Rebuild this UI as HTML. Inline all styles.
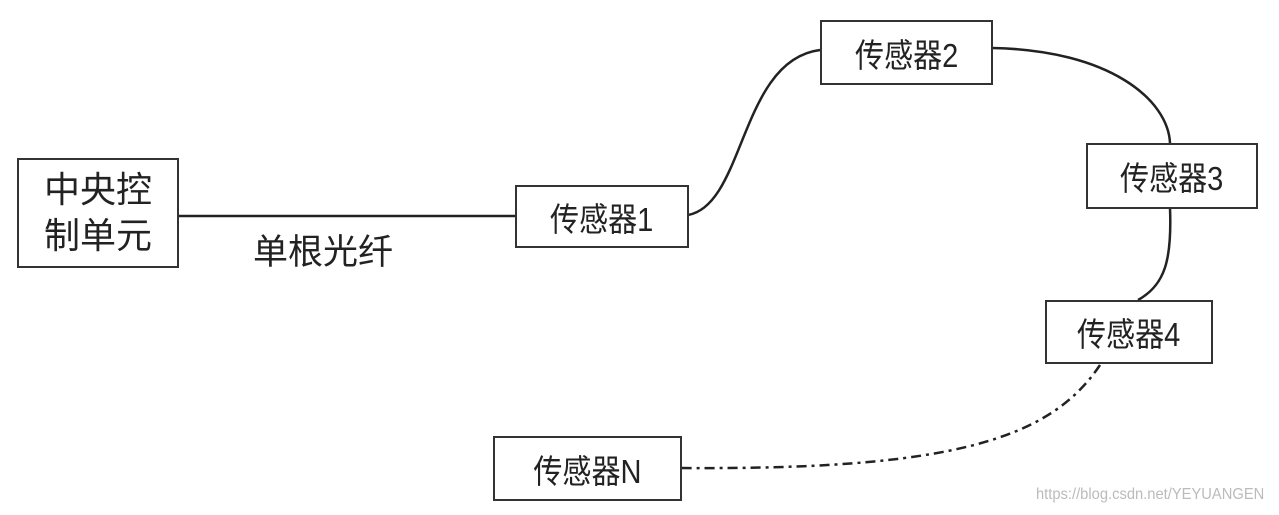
<!DOCTYPE html>
<html><head><meta charset="utf-8"><style>
html,body{margin:0;padding:0;background:#fff;}
body{width:1279px;height:515px;position:relative;overflow:hidden;font-family:"Liberation Sans","Noto Sans CJK SC",sans-serif;}
.b{position:absolute;border:2px solid #333;box-sizing:border-box;display:flex;align-items:center;justify-content:center;color:#222;}
.b span{display:inline-block;font-size:33px;transform:scaleX(0.88);}
.t{position:absolute;font-size:35px;color:#222;}
.w{position:absolute;font-size:16px;color:#bbb;transform:scaleX(0.92);transform-origin:left;white-space:nowrap;}
</style></head><body>
<svg width="1279" height="515" style="position:absolute;left:0;top:0">
<g fill="none" stroke="#222" stroke-width="2.5">
<line x1="178" y1="216" x2="515" y2="216"/>
<path d="M688 215 C745 205 740 60 820 50"/>
<path d="M992 48 C1110 50 1168 100 1170 143"/>
<path d="M1170 208 C1172 260 1165 285 1138 300"/>
<path d="M1100 365 C1050 440 950 470 681 468" stroke-dasharray="10 5 3 5"/>
</g>
</svg>
<div class="b" style="left:17px;top:158px;width:162px;height:110px;"><span style="font-size:36px;line-height:46px;transform:none">中央控<br>制单元</span></div>
<div class="b" style="left:515px;top:185px;width:174px;height:63px"><span>传感器1</span></div>
<div class="b" style="left:820px;top:20px;width:173px;height:65px"><span>传感器2</span></div>
<div class="b" style="left:1086px;top:143px;width:172px;height:66px"><span>传感器3</span></div>
<div class="b" style="left:1045px;top:300px;width:168px;height:64px"><span>传感器4</span></div>
<div class="b" style="left:493px;top:436px;width:189px;height:65px"><span>传感器N</span></div>
<div class="t" style="left:253px;top:224px">单根光纤</div>
<div class="w" style="left:1036px;top:486px">https://blog.csdn.net/YEYUANGEN</div>
</body></html>
